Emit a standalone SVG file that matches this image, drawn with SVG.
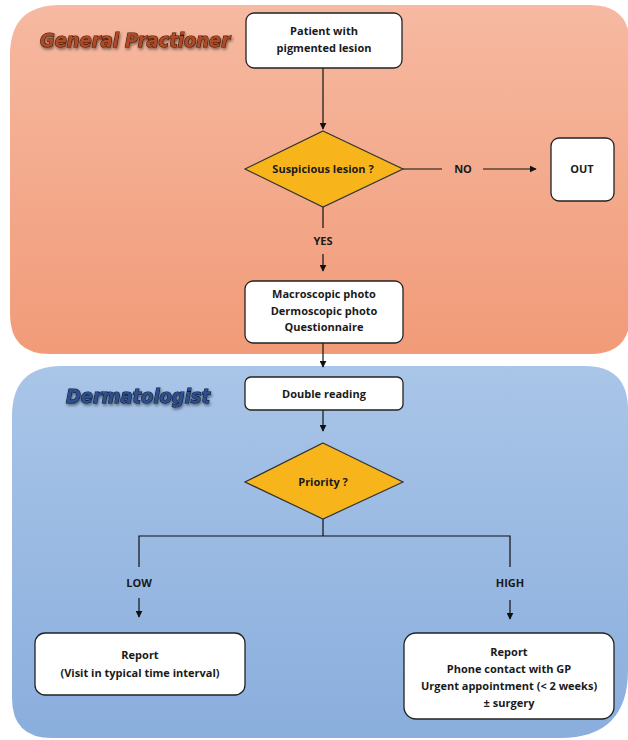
<svg xmlns="http://www.w3.org/2000/svg" width="628" height="740" viewBox="0 0 628 740">
  <defs>
    <linearGradient id="gpFill" x1="0" y1="0" x2="0" y2="1">
      <stop offset="0" stop-color="#f6b9a1"/>
      <stop offset="1" stop-color="#f19b78"/>
    </linearGradient>
    <linearGradient id="dermFill" x1="0" y1="0" x2="0" y2="1">
      <stop offset="0" stop-color="#a9c5e8"/>
      <stop offset="1" stop-color="#8aaedd"/>
    </linearGradient>
    <marker id="arrow" viewBox="0 0 10 10" refX="9" refY="5" markerWidth="7" markerHeight="7" orient="auto" markerUnits="userSpaceOnUse">
      <path d="M0,0 L10,5 L0,10 z" fill="#111"/>
    </marker>
    <filter id="titleShadow" x="-10%" y="-30%" width="120%" height="160%">
      <feGaussianBlur in="SourceAlpha" stdDeviation="1.5"/>
      <feOffset dx="1" dy="2" result="b"/>
      <feComponentTransfer><feFuncA type="linear" slope="0.5"/></feComponentTransfer>
      <feMerge><feMergeNode/><feMergeNode in="SourceGraphic"/></feMerge>
    </filter>
  </defs>
  <style>
    .box { fill: #ffffff; stroke: #222; stroke-width: 1.3; }
    .dia { fill: #f7b51b; stroke: #333; stroke-width: 1.2; }
    .lbl { font-family: "Open Sans", "Liberation Sans", sans-serif; font-weight: bold; font-size: 11px; fill: #1a1a1a; text-anchor: middle; }
    .edge { fill: none; stroke: #111; stroke-width: 1.2; }
    .title { font-family: "DejaVu Sans", sans-serif; font-weight: bold; font-style: italic; font-size: 20px; stroke-width: 1.2; paint-order: stroke; }
  </style>

  <rect width="628" height="740" fill="#ffffff"/>

  <!-- swimlane panels -->
  <g id="lane-gp">
    <path d="M60,5 H590 Q630,5 630,45 V315 Q630,354 590,354 H50 Q10,354 10,314 V55 Q10,5 60,5 z" fill="url(#gpFill)"/>
    <text class="title" x="40" y="47" textLength="190" lengthAdjust="spacingAndGlyphs" fill="#b04a25" stroke="#3b1508" filter="url(#titleShadow)">General Practioner</text>
  </g>
  <g id="lane-derm">
    <path d="M62,366 H585 Q628,366 628,410 V670 Q628,738 560,738 H52 Q12,738 12,698 V416 Q12,366 62,366 z" fill="url(#dermFill)"/>
    <text class="title" x="66" y="403" textLength="144" lengthAdjust="spacingAndGlyphs" fill="#2d4f8e" stroke="#0d1a33" filter="url(#titleShadow)">Dermatologist</text>
  </g>

  <!-- connectors -->
  <g id="connectors">
    <line class="edge" x1="323" y1="68" x2="323" y2="129" marker-end="url(#arrow)"/>
    <line class="edge" x1="403" y1="169" x2="442" y2="169"/>
    <line class="edge" x1="483" y1="169" x2="536" y2="169" marker-end="url(#arrow)"/>
    <line class="edge" x1="323" y1="207" x2="323" y2="228"/>
    <line class="edge" x1="323" y1="254" x2="323" y2="271" marker-end="url(#arrow)"/>
    <line class="edge" x1="323" y1="343" x2="323" y2="367" marker-end="url(#arrow)"/>
    <line class="edge" x1="323" y1="410" x2="323" y2="431" marker-end="url(#arrow)"/>
    <polyline class="edge" points="139,567 139,536 510,536 510,567"/>
    <line class="edge" x1="323" y1="519" x2="323" y2="536"/>
    <line class="edge" x1="139" y1="598" x2="139" y2="617" marker-end="url(#arrow)"/>
    <line class="edge" x1="510" y1="600" x2="510" y2="619" marker-end="url(#arrow)"/>
    <text class="lbl" x="463" y="173">NO</text>
    <text class="lbl" x="323" y="245">YES</text>
    <text class="lbl" x="139" y="587">LOW</text>
    <text class="lbl" x="510" y="587">HIGH</text>
  </g>

  <!-- nodes -->
  <g id="patient">
    <rect class="box" x="246" y="13" width="156" height="55" rx="8"/>
    <text class="lbl" x="324" y="35">Patient with</text>
    <text class="lbl" x="324" y="52">pigmented lesion</text>
  </g>
  <g id="suspicious">
    <polygon class="dia" points="323,131 403,169 323,207 245,169"/>
    <text class="lbl" x="323" y="173">Suspicious lesion ?</text>
  </g>
  <g id="out">
    <rect class="box" x="551" y="138" width="63" height="63" rx="8"/>
    <text class="lbl" x="582" y="173">OUT</text>
  </g>
  <g id="photos">
    <rect class="box" x="245" y="281" width="158" height="62" rx="8"/>
    <text class="lbl" x="324" y="298">Macroscopic photo</text>
    <text class="lbl" x="324" y="315">Dermoscopic photo</text>
    <text class="lbl" x="324" y="331">Questionnaire</text>
  </g>
  <g id="double-reading">
    <rect class="box" x="245" y="377" width="158" height="33" rx="6"/>
    <text class="lbl" x="324" y="398">Double reading</text>
  </g>
  <g id="priority">
    <polygon class="dia" points="323,443 403,482 323,519 245,482"/>
    <text class="lbl" x="323" y="486">Priority ?</text>
  </g>
  <g id="report-low">
    <rect class="box" x="35" y="633" width="210" height="62" rx="10"/>
    <text class="lbl" x="140" y="659">Report</text>
    <text class="lbl" x="140" y="677">(Visit in typical time interval)</text>
  </g>
  <g id="report-high">
    <rect class="box" x="404" y="633" width="210" height="86" rx="12"/>
    <text class="lbl" x="509" y="656">Report</text>
    <text class="lbl" x="509" y="673">Phone contact with GP</text>
    <text class="lbl" x="509" y="690">Urgent appointment (&lt; 2 weeks)</text>
    <text class="lbl" x="509" y="707">± surgery</text>
  </g>
</svg>
